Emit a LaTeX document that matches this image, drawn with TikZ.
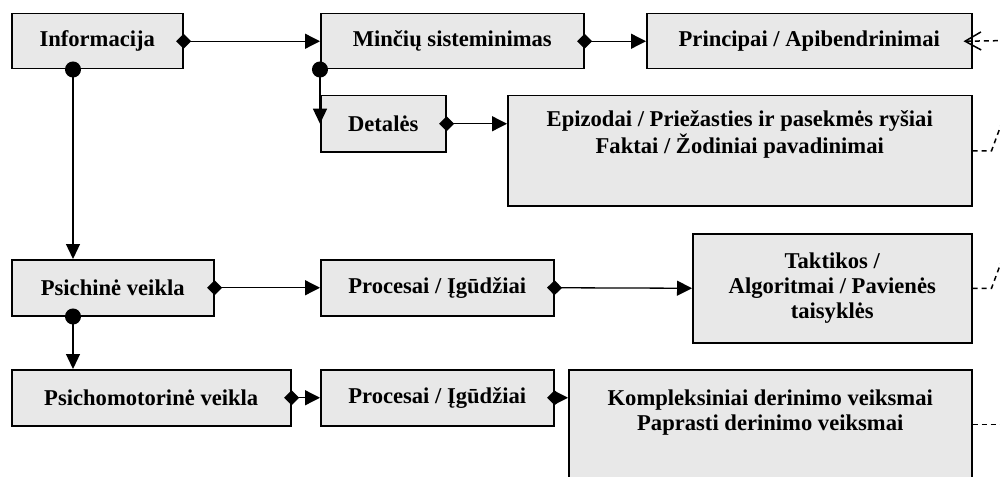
\documentclass[tikz,border=0pt]{standalone}
\usepackage{fontspec}
\setmainfont{Liberation Serif}
\usetikzlibrary{arrows.meta}
\definecolor{boxgray}{HTML}{E8E8E8}
\begin{document}
\begin{tikzpicture}[x=0.5pt,y=-0.5pt,
  txt/.style={font=\bfseries\fontsize{11.3pt}{12.5pt}\selectfont,align=center},
  box/.style={draw,line width=0.75pt,fill=boxgray,anchor=north west,inner sep=0pt,txt},
  sz/.style 2 args={minimum width=#1*0.5pt,minimum height=#2*0.5pt},
  toplbl/.style 2 args={label={[txt,anchor=north,yshift=#1,inner sep=2pt]north:{#2}}},
  conn/.style={line width=0.65pt,{Diamond[length=7.5pt,width=7.5pt]}-{Triangle[length=7.5pt,width=7.5pt]},shorten <=-3.75pt},
  cconn/.style={line width=0.65pt,{Circle[length=8pt]}-{Triangle[length=7.5pt,width=7pt]},shorten <=-4pt},
  dsh/.style={line width=0.75pt,dash pattern=on 2.5pt off 2pt}
]
\path[use as bounding box,clip] (0,0) rectangle (1000,476);

\node[box,sz={171}{55}] (info) at (11,13) {Informacija};
\node[box,sz={263}{55}] (minc) at (320,13) {Minčių sisteminimas};
\node[box,sz={325}{55}] (princ) at (646,13) {Principai / Apibendrinimai};
\node[box,sz={125}{56}] (det) at (320,95) {Detalės};
\node[box,sz={464}{110},toplbl={-5.5pt}{Epizodai / Priežasties ir pasekmės ryšiai\\[1pt]Faktai / Žodiniai pavadinimai}] (epiz) at (507,95) {};
\node[box,sz={202}{56}] (psich) at (11,259) {Psichinė veikla};
\node[box,sz={233}{56}] (proc1) at (320,259) {Procesai / Įgūdžiai};
\node[box,sz={279}{109}] (takt) at (692,233) {Taktikos /\\Algoritmai / Pavienės\\taisyklės};
\node[box,sz={279}{56}] (psm) at (11,369) {Psichomotorinė veikla};
\node[box,sz={233}{56}] (proc2) at (320,369) {Procesai / Įgūdžiai};
\node[box,sz={403}{109},toplbl={-8pt}{Kompleksiniai derinimo veiksmai\\Paprasti derinimo veiksmai}] (komp) at (568,369) {};

\coordinate (d1) at (1010,40.5);

% connectors
\draw[conn] (info.east) -- (minc.west);
\draw[conn] (minc.east) -- (princ.west);
\draw[conn] (det.east) -- (det.east -| epiz.west);
\draw[conn] (psich.east) -- (proc1.west);
\draw[conn] (proc1.east) -- (takt.west);
\draw[conn] (psm.east) -- (proc2.west);
\draw[conn] (proc2.east) -- (proc2.east -| komp.west);

\draw[cconn] ([xshift=31pt]info.south west) -- ([xshift=31pt]psich.north west);
\draw[cconn] ([xshift=31pt]psich.south west) -- ([xshift=31pt]psm.north west);
\draw[cconn] (minc.south west) -- (det.west);

% dashed links
\draw[dsh,{Straight Barb[length=8pt,width=9pt]}-] ([xshift=-4.5pt]princ.east) -- (d1);
\draw[dsh] (epiz.east) -- ++(19,0) -- ++(20,-54);
\draw[dsh] (takt.east) -- ++(19,0) -- ++(20,-54);
\draw[dsh] (komp.east) -- ++(45,0);
\end{tikzpicture}
\end{document}
